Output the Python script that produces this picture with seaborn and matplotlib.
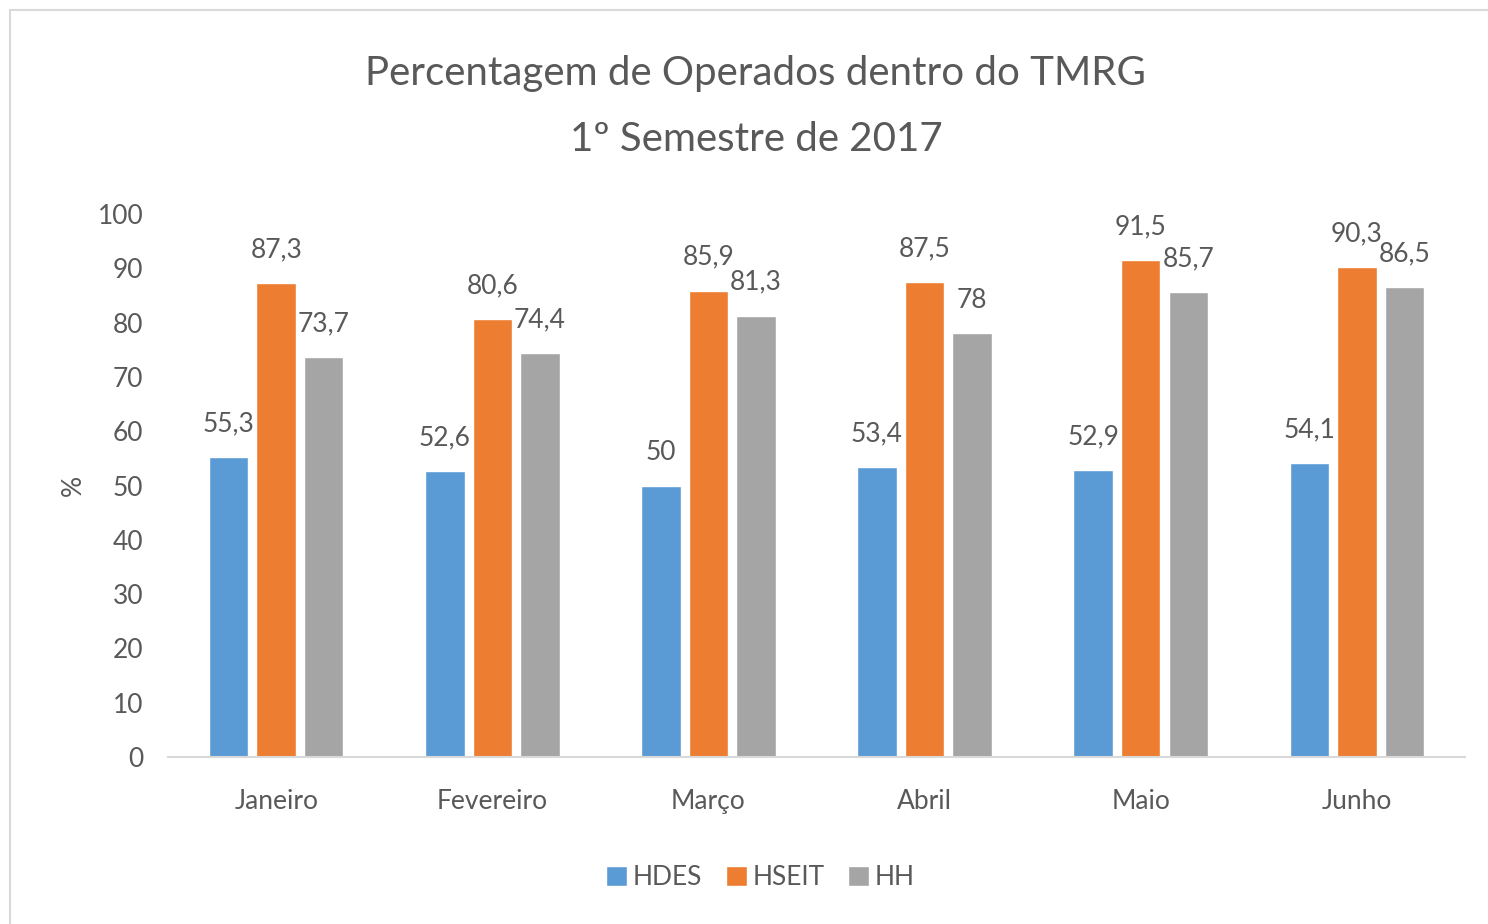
import numpy as np
import pandas as pd
import seaborn as sns
import matplotlib.pyplot as plt
from matplotlib.patches import Rectangle

# data
meses = ["Janeiro", "Fevereiro", "Março", "Abril", "Maio", "Junho"]
hdes = [55.3, 52.6, 50, 53.4, 52.9, 54.1]
hseit = [87.3, 80.6, 85.9, 87.5, 91.5, 90.3]
hh = [73.7, 74.4, 81.3, 78, 85.7, 86.5]
series = ["HDES", "HSEIT", "HH"]

df = pd.DataFrame({"Mes": meses * 3,
                   "Hospital": np.repeat(series, len(meses)),
                   "Valor": hdes + hseit + hh})

sns.set_theme(style="white")
plt.rcParams['font.family'] = ['Lato', 'DejaVu Sans']
txt = "#595959"

fig = plt.figure(figsize=(14.88, 9.24), dpi=100)
ax = fig.add_axes([0.113, 0.1807, 0.8715, 0.5877])

cores = ["#5B9BD5", "#ED7D31", "#A5A5A5"]
sns.barplot(data=df, x="Mes", y="Valor", hue="Hospital", order=meses,
            hue_order=series, palette=cores, width=0.66, gap=0.17,
            saturation=1, ax=ax, legend=True)

for cont, vals in zip(ax.containers, [hdes, hseit, hh]):
    ax.bar_label(cont, labels=[f"{v:g}".replace(".", ",") for v in vals],
                 padding=15, fontsize=19, color=txt)

ax.set_ylim(0, 100)
ax.set_xlim(-0.5, 5.5)
ax.set_yticks(range(0, 101, 10))
ax.tick_params(axis="y", length=0, pad=18, labelsize=19, labelcolor=txt)
ax.tick_params(axis="x", length=0, pad=23, labelsize=19, labelcolor=txt)
ax.set_xlabel("")
ax.set_ylabel("%", fontsize=19, color=txt, labelpad=8)
for s in ["top", "right", "left"]:
    ax.spines[s].set_visible(False)
ax.spines["bottom"].set_color("#D9D9D9")
ax.spines["bottom"].set_linewidth(1.5)

fig.text(0.508, 0.92, "Percentagem de Operados dentro do TMRG", ha="center",
         va="center", fontsize=29, color=txt)
fig.text(0.508, 0.849, "1º Semestre de 2017", ha="center", va="center",
         fontsize=29, color=txt)

ax.legend(loc="center", bbox_to_anchor=(0.511, 0.05),
          bbox_transform=fig.transFigure, ncol=3, frameon=False,
          fontsize=19, labelcolor=txt, handlelength=0.8, handleheight=0.8,
          handletextpad=0.2, columnspacing=0.9)

# light chart border
fig.patches.append(Rectangle((10 / 1488, -0.1), 1.2, 1.1 - 10 / 924,
                             transform=fig.transFigure, fill=False,
                             edgecolor="#D9D9D9", linewidth=1.5))

fig.savefig("out.png", dpi=100)
